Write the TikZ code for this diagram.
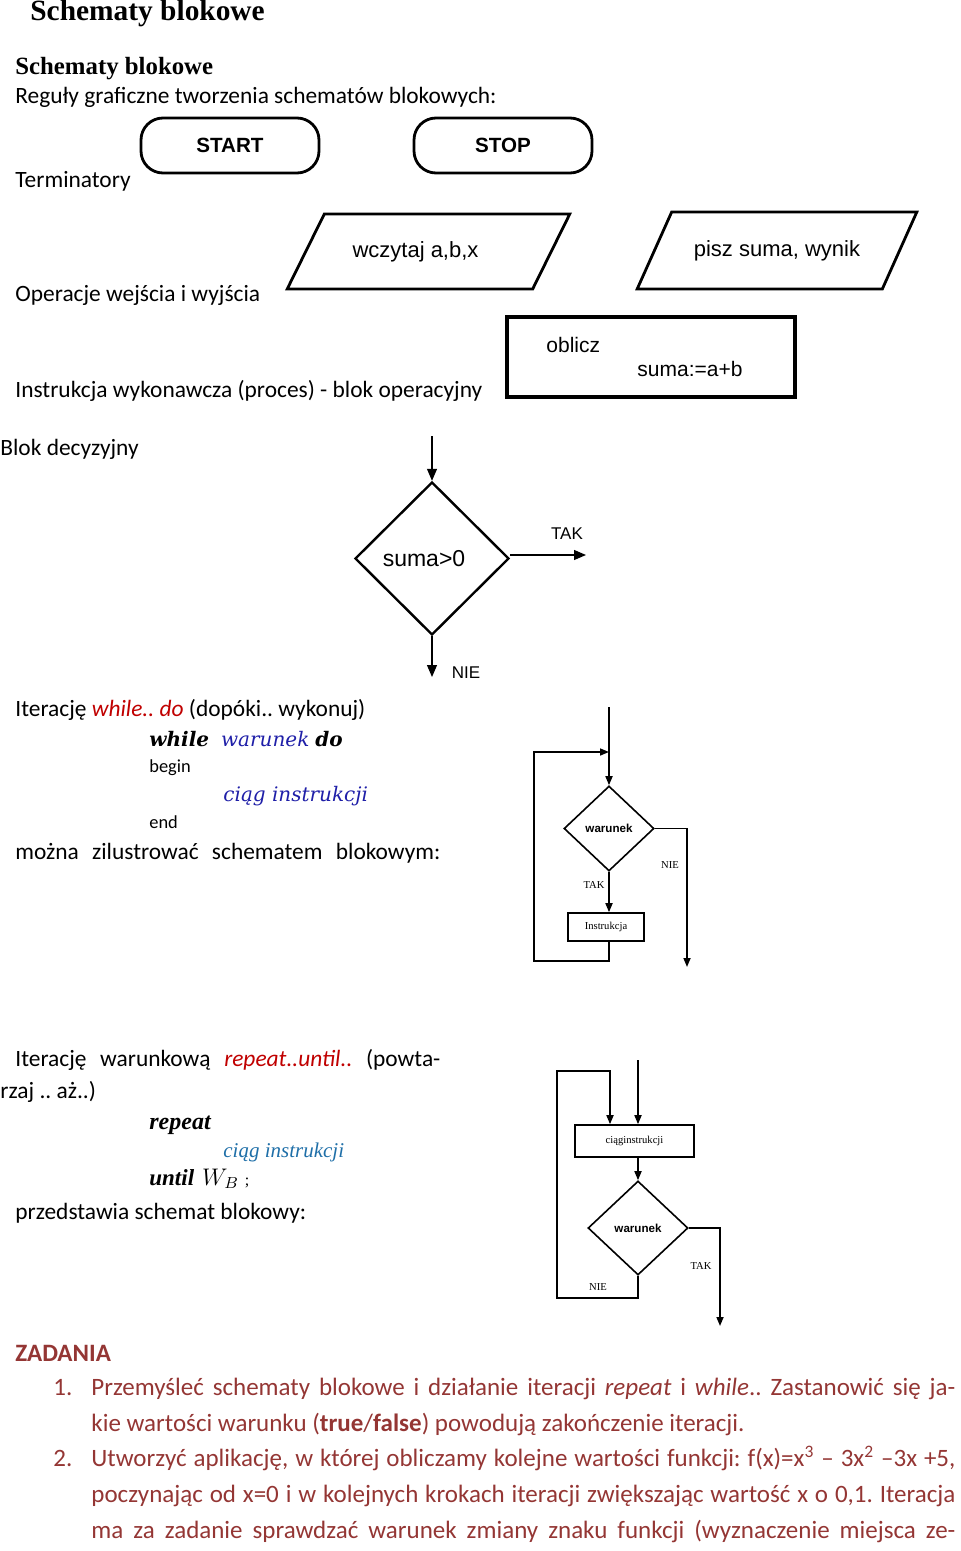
\documentclass[tikz,border=0pt]{standalone}
\usepackage{fontspec}
\usetikzlibrary{shapes.geometric,arrows.meta}
\setmainfont{Carlito}
\newfontfamily\chartfont{Liberation Sans}
\newfontfamily\timesfont{Liberation Serif}
\newfontfamily\codefont{DejaVu Serif}
\newcommand{\setfs}[1]{\fontsize{#1}{#1}\selectfont}
\definecolor{hotred}{HTML}{C00000}
\definecolor{codeblue}{HTML}{1F1FA8}
\definecolor{tealblue}{HTML}{1F6FA8}
\definecolor{taskred}{HTML}{943634}
\frenchspacing
\tikzset{
  txt/.style={anchor=base west,inner sep=0pt,font=\setfs{11.7}},
  term/.style={draw,line width=1.4pt,rounded corners=11pt,minimum width=89pt,minimum height=27.5pt,font=\chartfont\bfseries\setfs{10.3}},
  inout/.style={draw,line width=1.4pt,trapezium,trapezium left angle=49,trapezium right angle=131,trapezium stretches=true,font=\chartfont\setfs{11}},
  procbox/.style={draw,line width=2pt,minimum width=144pt,minimum height=40pt},
  decbox/.style={draw,line width=1.2pt,diamond,minimum width=77pt,minimum height=76.5pt,font=\chartfont\setfs{11.5}},
  ctext/.style={anchor=base west,inner sep=0pt,font=\chartfont\setfs{10.5}},
  clabel/.style={inner sep=0pt,font=\chartfont\setfs{8.5}},
  sdec/.style={draw,line width=0.8pt,diamond,inner sep=0pt,font=\chartfont\bfseries\setfs{5.8}},
  sbox/.style={draw,line width=0.8pt,inner sep=0pt,font=\timesfont\setfs{5.3}},
  slabel/.style={inner sep=0pt,font=\timesfont\setfs{5.3}},
  arr/.style={line width=0.6pt,-{Triangle[length=6pt,width=5pt]}},
  sarr/.style={line width=0.8pt,-{Triangle[length=4.5pt,width=3.5pt]}},
  code/.style={anchor=base west,inner sep=0pt,font=\codefont\itshape\setfs{10}},
  task/.style={anchor=base west,inner sep=0pt,text=taskred,font=\setfs{12.5}}
}
\begin{document}
\begin{tikzpicture}[x=0.5pt,y=-0.5pt]
\useasboundingbox (0,0) rectangle (960,1551);
% headings
\node[txt,font=\timesfont\bfseries\setfs{14.7}] (title) at (30,21) {Schematy blokowe};
\node[txt,font=\timesfont\bfseries\setfs{12.4}] (head) at (15,75) {Schematy blokowe};
\node[txt] (rules) at (15,104) {Reguły graficzne tworzenia schematów blokowych:};
% terminators
\node[txt] (tterm) at (15,188) {Terminatory};
\node[term] (start) at (230,145.5) {START};
\node[term] (stop) at (503,145.5) {STOP};
% input / output
\node[txt] (tio) at (15,302) {Operacje wejścia i wyjścia};
\node[inout,minimum width=141.5pt,minimum height=37.5pt] (read) at (428.5,251.5) {\raisebox{-1.5pt}{wczytaj a,b,x}\hspace*{13pt}};
\node[inout,minimum width=140pt,minimum height=38.5pt] (write) at (777,250.5) {\raisebox{-1pt}{pisz suma, wynik}};
% process
\node[txt] (tproc) at (15,397) {Instrukcja wykonawcza (proces) - blok operacyjny};
\node[procbox] (proc) at (651,357) {};
\node[ctext] (obl) at (546,352) {oblicz};
\node[ctext] (sum) at (637,377) {suma:=a+b};
% decision
\node[txt] (tdec) at (0,455) {Blok decyzyjny};
\node[decbox] (dec) at (432,558.5) {\raisebox{-3pt}{suma>0}\hspace*{8pt}};
\coordinate (din) at (432,436);
\coordinate (dtak) at (586,555);
\coordinate (dnie) at (432,677);
\draw[arr] (din) -- (dec.north);
\draw[arr] (dec.east |- dtak) -- (dtak);
\draw[arr] (dec.south) -- (dnie);
\node[clabel] (tak) at (567,534) {TAK};
\node[clabel] (nie) at (466,673) {NIE};
% while .. do
\node[txt] (twhile) at (15,716) {Iterację \textcolor{hotred}{\itshape while.. do} (dopóki.. wykonuj)};
\node[code] (wcode) at (149,746) {\bfseries while\hspace{6pt}\mdseries\textcolor{codeblue}{warunek}\hspace{3pt}\bfseries do};
\node[txt,font=\setfs{9.2}] (wbegin) at (149,772) {begin};
\node[code,text=codeblue] (wbody) at (223,801) {ciąg instrukcji};
\node[txt,font=\setfs{9.2}] (wend) at (149,828) {end};
\node[txt] (twhile2) at (15,859) {\makebox[212.5pt][s]{można zilustrować schematem blokowym:}};
\node[sdec,minimum width=45pt,minimum height=42.5pt] (wd) at (609,828.5) {warunek};
\node[sbox,minimum width=38pt,minimum height=14pt] (wbox) at (606,927) {Instrukcja};
\coordinate (wtop) at (609,707);
\coordinate (wloop) at (534,961);
\coordinate (wjoin) at (609,752);
\coordinate (wout) at (687,967);
\draw[sarr] (wtop) -- (wd.north);
\draw[sarr] (wd.south) -- (wd.south |- wbox.north);
\draw[sarr] (wd.south |- wbox.south) |- (wloop) |- (wjoin);
\draw[sarr] (wd.east) -| (wout);
\node[slabel] (wnie) at (670,865) {NIE};
\node[slabel] (wtak) at (594,885) {TAK};
% repeat .. until
\node[txt] (trep) at (15,1066) {\makebox[212.5pt][s]{Iterację  warunkową \textcolor{hotred}{\itshape repeat..until..} (powta-}};
\node[txt] (trep2) at (0,1098) {rzaj .. aż..)};
\node[txt,font=\timesfont\bfseries\itshape\setfs{12}] (rcode) at (149,1129) {repeat};
\node[txt,font=\timesfont\itshape\setfs{10.5},text=tealblue] (rbody) at (223,1157) {ciąg instrukcji};
\node[txt,font=\timesfont\bfseries\itshape\setfs{11.5}] (runtil) at (149,1185) {until\hspace{4pt}\mdseries$W_B$\hspace{3pt}{\upshape\setfs{8};}};
\node[txt] (trep3) at (15,1219) {przedstawia schemat blokowy:};
\node[sbox,minimum width=59.5pt,minimum height=16pt] (rbox) at (634.5,1141) {ciąginstrukcji};
\node[sdec,minimum width=50pt,minimum height=47pt] (rd) at (638,1228) {warunek};
\coordinate (rtop) at (638,1060);
\coordinate (rloop) at (557,1298);
\coordinate (rjoin) at (610,1071);
\coordinate (rout) at (720,1326);
\draw[sarr] (rtop) -- (rtop |- rbox.north);
\draw[sarr] (rd.north |- rbox.south) -- (rd.north);
\draw[sarr] (rd.south) |- (rloop) |- (rjoin) -- (rjoin |- rbox.north);
\draw[sarr] (rd.east) -| (rout);
\node[slabel] (rtak) at (701,1266) {TAK};
\node[slabel] (rnie) at (598,1287) {NIE};
% zadania
\node[task,font=\bfseries\setfs{12.5}] (zad) at (15,1361) {ZADANIA};
\node[task] (n1) at (53,1395) {1.};
\node[task] (z1) at (91,1395) {\makebox[432pt][s]{Przemyśleć  schematy blokowe i działanie iteracji \textit{repeat} i \textit{while}.. Zastanowić się ja-}};
\node[task] (z2) at (91,1431) {kie wartości warunku (\textbf{true}/\textbf{false}) powodują zakończenie iteracji.};
\node[task] (n2) at (53,1466) {2.};
\node[task] (z3) at (91,1466) {\makebox[432pt][s]{Utworzyć aplikację, w której obliczamy kolejne wartości funkcji: f(x)=x\textsuperscript{3} – 3x\textsuperscript{2} –3x +5,}};
\node[task] (z4) at (91,1502) {\makebox[432pt][s]{poczynając od x=0 i w kolejnych krokach iteracji zwiększając wartość x o 0,1. Iteracja}};
\node[task] (z5) at (91,1538) {\makebox[432pt][s]{ma za zadanie sprawdzać warunek zmiany znaku funkcji (wyznaczenie miejsca ze-}};
\end{tikzpicture}
\end{document}
